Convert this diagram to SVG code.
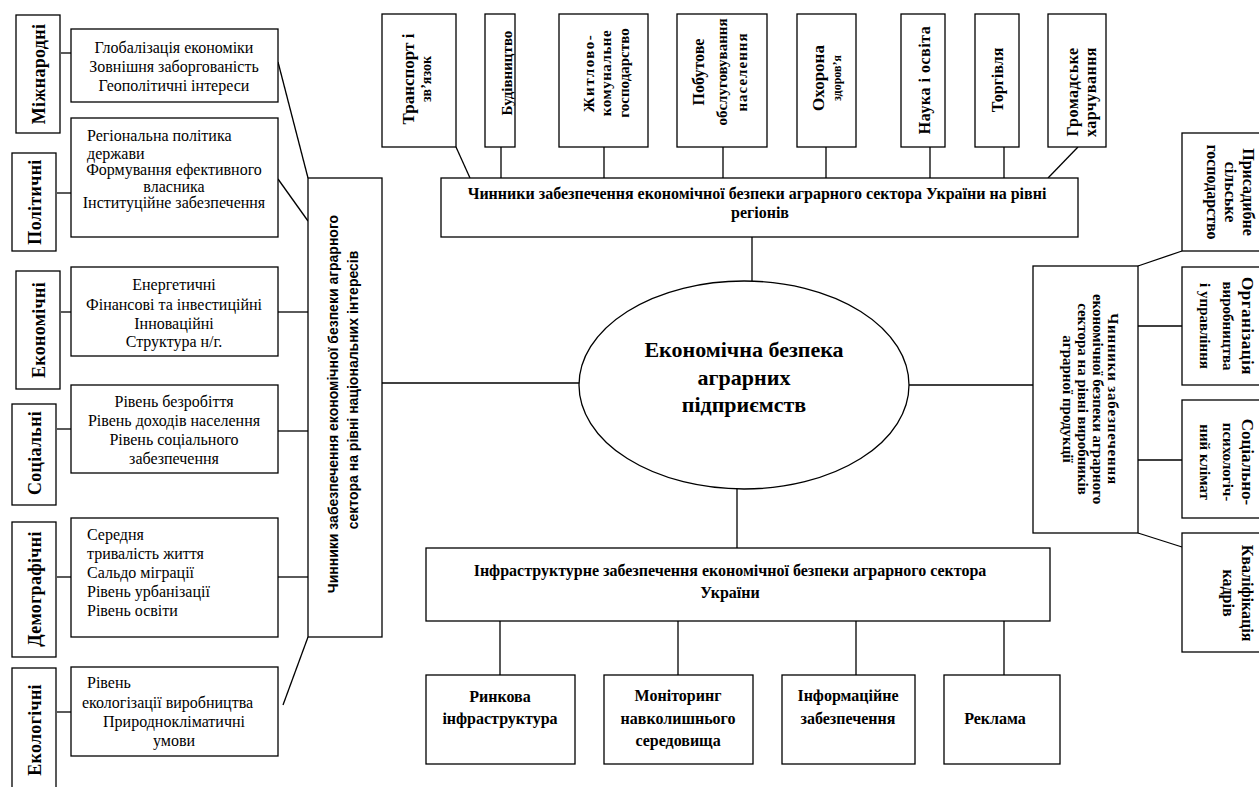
<svg xmlns="http://www.w3.org/2000/svg" width="1259" height="787" viewBox="0 0 1259 787">
<style>
.box{fill:#fff;stroke:#000;stroke-width:1.3}
.ln{stroke:#000;stroke-width:1.3;fill:none}
.t{font-family:"Liberation Serif","Times New Roman",serif;font-size:16px;fill:#000}
.b{font-weight:bold}
.c{text-anchor:middle}
.lab{font-family:"Liberation Serif","Times New Roman",serif;font-size:18px;font-weight:bold;text-anchor:middle;fill:#000;letter-spacing:0.3px}
.s{font-family:"Liberation Sans",Arial,sans-serif;font-size:14px;font-weight:bold;text-anchor:middle;fill:#000}
</style>
<rect width="1259" height="787" fill="#fff"/>

<g id="connectors">
<line class="ln" x1="61" y1="53" x2="76" y2="53"/>
<line class="ln" x1="57" y1="193" x2="76" y2="193"/>
<line class="ln" x1="61" y1="312" x2="76" y2="312"/>
<line class="ln" x1="57" y1="429" x2="76" y2="429"/>
<line class="ln" x1="57" y1="577" x2="76" y2="577"/>
<line class="ln" x1="57" y1="712" x2="76" y2="712"/>
<line class="ln" x1="278" y1="62" x2="308" y2="178"/>
<line class="ln" x1="278" y1="179" x2="308" y2="221"/>
<line class="ln" x1="278" y1="312" x2="308" y2="312"/>
<line class="ln" x1="278" y1="431" x2="308" y2="431"/>
<line class="ln" x1="278" y1="577" x2="308" y2="577"/>
<line class="ln" x1="308" y1="637" x2="283" y2="705"/>
<line class="ln" x1="382" y1="383" x2="580" y2="383"/>
<line class="ln" x1="456" y1="147" x2="470" y2="178"/>
<line class="ln" x1="501" y1="147" x2="501" y2="178"/>
<line class="ln" x1="604" y1="147" x2="604" y2="178"/>
<line class="ln" x1="723" y1="147" x2="723" y2="178"/>
<line class="ln" x1="826" y1="147" x2="826" y2="178"/>
<line class="ln" x1="930" y1="147" x2="930" y2="178"/>
<line class="ln" x1="1004" y1="147" x2="1004" y2="178"/>
<line class="ln" x1="1078" y1="147" x2="1048" y2="178"/>
<line class="ln" x1="752" y1="237" x2="752" y2="281"/>
<line class="ln" x1="737" y1="489" x2="737" y2="548"/>
<line class="ln" x1="500" y1="621" x2="500" y2="675"/>
<line class="ln" x1="678" y1="621" x2="678" y2="675"/>
<line class="ln" x1="856" y1="621" x2="856" y2="675"/>
<line class="ln" x1="1004" y1="621" x2="1004" y2="675"/>
<line class="ln" x1="909" y1="385" x2="1033" y2="385"/>
<line class="ln" x1="1138" y1="266" x2="1182" y2="251"/>
<line class="ln" x1="1138" y1="326" x2="1182" y2="326"/>
<line class="ln" x1="1138" y1="460" x2="1182" y2="460"/>
<line class="ln" x1="1138" y1="533" x2="1182" y2="547"/>
</g>

<g id="cat-mizhnarodni"><rect class="box" x="16" y="15" width="44" height="118"/>
<text class="lab" transform="translate(45,74) rotate(-90)">Міжнародні</text></g>
<g id="cat-politychni"><rect class="box" x="12" y="153" width="44" height="98"/>
<text class="lab" transform="translate(41,202) rotate(-90)">Політичні</text></g>
<g id="cat-ekonomichni"><rect class="box" x="16" y="271" width="44" height="118"/>
<text class="lab" transform="translate(45,330) rotate(-90)">Економічні</text></g>
<g id="cat-sotsialni"><rect class="box" x="12" y="404" width="44" height="101"/>
<text class="lab" transform="translate(41,453) rotate(-90)">Соціальні</text></g>
<g id="cat-demografichni"><rect class="box" x="12" y="522" width="44" height="135"/>
<text class="lab" transform="translate(41,589) rotate(-90)">Демографічні</text></g>
<g id="cat-ekologichni"><rect class="box" x="12" y="668" width="44" height="130"/>
<text class="lab" transform="translate(41,730) rotate(-90)">Екологічні</text></g>

<g id="content-1"><rect class="box" x="71" y="29" width="207" height="73"/>
<text class="t c"><tspan x="174" y="53">Глобалізація економіки</tspan><tspan x="174" y="72">Зовнішня заборгованість</tspan><tspan x="174" y="91">Геополітичні інтереси</tspan></text></g>
<g id="content-2"><rect class="box" x="71" y="118" width="207" height="119"/>
<text class="t"><tspan x="87" y="141">Регіональна політика</tspan><tspan x="87" y="159">держави</tspan></text>
<text class="t c"><tspan x="174" y="175">Формування ефективного</tspan><tspan x="174" y="192">власника</tspan><tspan x="174" y="208">Інституційне забезпечення</tspan></text></g>
<g id="content-3"><rect class="box" x="71" y="267" width="207" height="89"/>
<text class="t c"><tspan x="174" y="290">Енергетичні</tspan><tspan x="174" y="310">Фінансові та інвестиційні</tspan><tspan x="174" y="329">Інноваційні</tspan><tspan x="174" y="347">Структура н/г.</tspan></text></g>
<g id="content-4"><rect class="box" x="71" y="385" width="207" height="88"/>
<text class="t c"><tspan x="174" y="407">Рівень безробіття</tspan><tspan x="174" y="426">Рівень доходів населення</tspan><tspan x="174" y="445">Рівень соціального</tspan><tspan x="174" y="464">забезпечення</tspan></text></g>
<g id="content-5"><rect class="box" x="71" y="518" width="207" height="119"/>
<text class="t"><tspan x="87" y="540">Середня</tspan><tspan x="87" y="559">тривалість життя</tspan><tspan x="87" y="578">Сальдо міграції</tspan><tspan x="87" y="597">Рівень урбанізації</tspan><tspan x="87" y="616">Рівень освіти</tspan></text></g>
<g id="content-6"><rect class="box" x="71" y="667" width="207" height="89"/>
<text class="t"><tspan x="87" y="688">Рівень</tspan><tspan x="82" y="708">екологізації виробництва</tspan></text>
<text class="t c"><tspan x="174" y="727">Природнокліматичні</tspan><tspan x="174" y="746">умови</tspan></text></g>

<g id="main-national"><rect class="box" x="308" y="178" width="74" height="459"/>
<text class="s" transform="translate(338,404) rotate(-90)">Чинники забезпечення економічної безпеки аграрного</text>
<text class="s" transform="translate(358,390) rotate(-90)">сектора на рівні національних інтересів</text></g>

<g id="top-transport"><rect class="box" x="382" y="14" width="74" height="133"/>
<text class="t b c" transform="translate(414,79) rotate(-90)"><tspan x="0" y="0" style="font-size:17px">Транспорт і</tspan><tspan x="0" y="17" style="font-size:14px">зв’язок</tspan></text></g>
<g id="top-budivnytstvo"><rect class="box" x="485" y="14" width="30" height="133"/>
<text class="t b c" transform="translate(512,73) rotate(-90)" style="font-size:15px">Будівництво</text></g>
<g id="top-zhytlovo"><rect class="box" x="559" y="14" width="89" height="133"/>
<text class="t b c" transform="translate(594,73) rotate(-90)" style="font-size:15px"><tspan x="0" y="0" style="letter-spacing:1.5px">Житлово-</tspan><tspan x="0" y="17" style="letter-spacing:0.5px">комунальне</tspan><tspan x="0" y="35">господарство</tspan></text></g>
<g id="top-pobutove"><rect class="box" x="677" y="14" width="90" height="133"/>
<text class="t b c" transform="translate(704,72) rotate(-90)" style="font-size:15px"><tspan x="0" y="0" style="font-size:16px">Побутове</tspan><tspan x="0" y="23">обслуговування</tspan><tspan x="0" y="43" style="letter-spacing:1px">населення</tspan></text></g>
<g id="top-okhorona"><rect class="box" x="797" y="14" width="59" height="133"/>
<text class="t b c" transform="translate(824,78) rotate(-90)"><tspan x="0" y="0" style="font-size:17px">Охорона</tspan><tspan x="0" y="17" style="font-size:12px">здоров’я</tspan></text></g>
<g id="top-nauka"><rect class="box" x="901" y="14" width="44" height="133"/>
<text class="t b c" transform="translate(930,80) rotate(-90)" style="font-size:16px;letter-spacing:0.5px">Наука і освіта</text></g>
<g id="top-torgivlia"><rect class="box" x="975" y="14" width="44" height="133"/>
<text class="t b c" transform="translate(1003,80) rotate(-90)" style="font-size:16px">Торгівля</text></g>
<g id="top-gromadske"><rect class="box" x="1048" y="14" width="58" height="133"/>
<text class="t b c" transform="translate(1078,92) rotate(-90)" style="font-size:16px"><tspan x="0" y="0" style="letter-spacing:0.5px">Громадське</tspan><tspan x="0" y="18" style="letter-spacing:0.5px">харчування</tspan></text></g>

<g id="main-regions"><rect class="box" x="441" y="178" width="637" height="59"/>
<text class="t b c"><tspan x="757" y="199">Чинники забезпечення економічної безпеки аграрного сектора України на рівні</tspan><tspan x="760" y="218">регіонів</tspan></text></g>

<g id="center"><ellipse class="box" cx="744" cy="385" rx="165" ry="104"/>
<text class="t b c" style="font-size:22px"><tspan x="744" y="357">Економічна безпека</tspan><tspan x="744" y="385">аграрних</tspan><tspan x="744" y="412">підприємств</tspan></text></g>

<g id="main-producers"><rect class="box" x="1033" y="266" width="105" height="267"/>
<text class="t b c" transform="translate(1108,399) rotate(90)" style="font-size:15px"><tspan x="0" y="0" style="letter-spacing:0.8px">Чинники забезпечення</tspan><tspan x="0" y="15">економічної безпеки аграрного</tspan><tspan x="0" y="30">сектора на рівні виробників</tspan><tspan x="0" y="45">аграрної продукції</tspan></text></g>

<g id="right-prysadybne"><rect class="box" x="1182" y="133" width="90" height="118"/>
<text class="t b c" transform="translate(1243,192) rotate(90)" style="font-size:16px"><tspan x="0" y="0">Присадибне</tspan><tspan x="0" y="18">сільське</tspan><tspan x="0" y="36">господарство</tspan></text></g>
<g id="right-organizatsiia"><rect class="box" x="1182" y="267" width="90" height="118"/>
<text class="t b c" transform="translate(1242,326) rotate(90)" style="font-size:15px"><tspan x="0" y="0" style="font-size:17px;letter-spacing:0.5px">Організація</tspan><tspan x="0" y="19">виробництва</tspan><tspan x="0" y="42">і управління</tspan></text></g>
<g id="right-klimat"><rect class="box" x="1182" y="400" width="90" height="118"/>
<text class="t b c" transform="translate(1242,462) rotate(90)" style="font-size:15px"><tspan x="0" y="0" style="font-size:17px">Соціально-</tspan><tspan x="0" y="19">психологіч-</tspan><tspan x="0" y="42">ний клімат</tspan></text></g>
<g id="right-kvalifikatsiia"><rect class="box" x="1182" y="533" width="90" height="119"/>
<text class="t b c" transform="translate(1242,593) rotate(90)" style="font-size:16px"><tspan x="0" y="0">Кваліфікація</tspan><tspan x="0" y="19">кадрів</tspan></text></g>

<g id="main-infra"><rect class="box" x="426" y="548" width="624" height="73"/>
<text class="t b c"><tspan x="730" y="576">Інфраструктурне забезпечення економічної безпеки аграрного сектора</tspan><tspan x="730" y="598">України</tspan></text></g>

<g id="bottom-rynkova"><rect class="box" x="426" y="675" width="149" height="89"/>
<text class="t b c"><tspan x="500" y="702">Ринкова</tspan><tspan x="500" y="724">інфраструктура</tspan></text></g>
<g id="bottom-monitoring"><rect class="box" x="604" y="675" width="149" height="89"/>
<text class="t b c"><tspan x="678" y="701">Моніторинг</tspan><tspan x="678" y="724">навколишнього</tspan><tspan x="678" y="746">середовища</tspan></text></g>
<g id="bottom-info"><rect class="box" x="782" y="675" width="133" height="89"/>
<text class="t b c"><tspan x="848" y="701">Інформаційне</tspan><tspan x="848" y="724">забезпечення</tspan></text></g>
<g id="bottom-reklama"><rect class="box" x="944" y="675" width="116" height="89"/>
<text class="t b c"><tspan x="995" y="724">Реклама</tspan></text></g>
</svg>
